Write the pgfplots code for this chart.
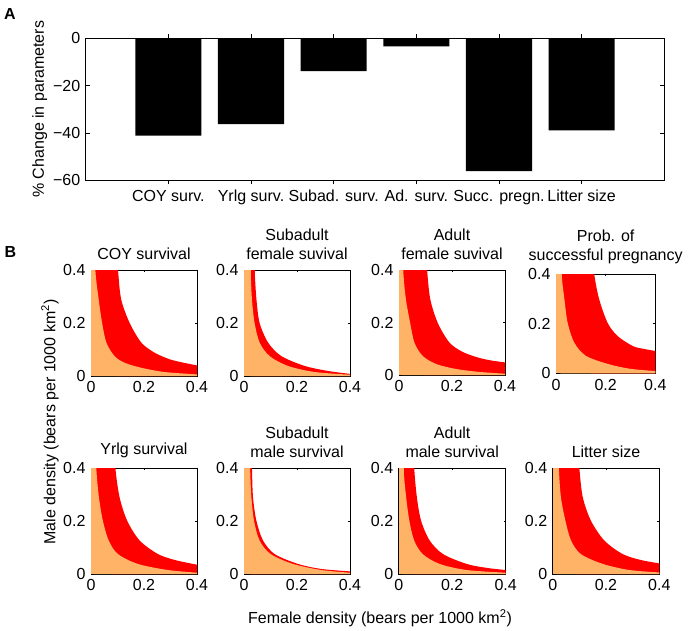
\documentclass[border=0pt]{standalone}
\usepackage{fontspec}
\setmainfont{Liberation Sans}
\usepackage{pgfplots}
\pgfplotsset{compat=1.18}
\definecolor{lightor}{RGB}{255,179,102}

\pgfplotsset{
  every axis/.append style={
    scale only axis,
    tick align=inside,
    axis line style={line width=0.6pt},
    every tick/.style={line width=0.6pt, black},
    /pgf/number format/assume math mode=true,
  },
  dens/.style={
    width=106pt, height=106pt,
    xmin=0, xmax=0.4, ymin=0, ymax=0.4,
    xtick={0,0.2,0.4}, ytick={0,0.2,0.4},
    xticklabels={0,0.2,0.4}, yticklabels={0,0.2,0.4},
    major tick length=2pt,
    anchor=north west,
    title style={align=center, yshift=-1pt},
  },
  redfill/.style={fill=red, draw=none},
  orfill/.style={fill=lightor, draw=none},
}

\begin{document}
\fontsize{16}{19}\selectfont
\begin{tikzpicture}
\useasboundingbox (0pt,0pt) rectangle (690pt,-631pt);

% panel A
\begin{axis}[
    at={(85.7pt,-38.3pt)}, anchor=north west,
    width=578.6pt, height=142pt,
    ybar, bar width=0.8,
    xmin=0, xmax=7, ymin=-60, ymax=0,
    xtick={1,2,3,4,5,6},
    xticklabels={COY surv., Yrlg surv., Subad. surv., Ad. surv., Succ. pregn., Litter size},
    ytick={-60,-40,-20,0},
    yticklabels={−60,−40,−20,0},
    major tick length=4pt,
    ylabel={\% Change in parameters},
    ylabel style={at={(axis description cs:-0.0795,0.5)}, anchor=center},
]
\addplot[fill=black, draw=none] coordinates {(1,-41.1) (2,-36.3) (3,-13.9) (4,-3.4) (5,-56.1) (6,-38.9)};
\end{axis}

\node[font=\bfseries] at (10pt,-14pt) {A};
\node[font=\bfseries] at (10.5pt,-251.5pt) {B};
\node[rotate=90] at (50pt,-422pt) {Male density (bears per 1000 km\textsuperscript{2})};
\node at (380pt,-618pt) {Female density (bears per 1000 km\textsuperscript{2})};

% row 1
\begin{axis}[dens, at={(91pt,-270pt)}, title={COY survival}]
\addplot[redfill] coordinates {(0,0.4) (0.102,0.4)} \closedcycle;
\addplot[redfill, smooth] coordinates {(0.092,0.55) (0.102,0.40) (0.114,0.289) (0.146,0.200) (0.190,0.126) (0.240,0.088) (0.297,0.063) (0.350,0.050) (0.400,0.040)} \closedcycle;
\addplot[orfill] coordinates {(0,0.4) (0.0164,0.4)} \closedcycle;
\addplot[orfill, smooth] coordinates {(0.008,0.6) (0.0164,0.40) (0.029,0.289) (0.042,0.200) (0.058,0.126) (0.089,0.075) (0.127,0.050) (0.190,0.031) (0.278,0.015) (0.400,0.006)} \closedcycle;
\end{axis}

\begin{axis}[dens, at={(244pt,-270pt)}, title={Subadult\\female suvival}]
\addplot[redfill] coordinates {(0,0.4) (0.040,0.4)} \closedcycle;
\addplot[redfill, smooth] coordinates {(0.034,0.55) (0.040,0.40) (0.047,0.289) (0.059,0.200) (0.091,0.126) (0.141,0.075) (0.229,0.038) (0.317,0.019) (0.400,0.008)} \closedcycle;
\addplot[orfill] coordinates {(0,0.4) (0.025,0.4)} \closedcycle;
\addplot[orfill, smooth] coordinates {(0.021,0.55) (0.025,0.40) (0.030,0.289) (0.040,0.200) (0.059,0.126) (0.097,0.075) (0.166,0.038) (0.267,0.015) (0.400,0.005)} \closedcycle;
\end{axis}

\begin{axis}[dens, at={(399pt,-270pt)}, height=105pt, title={Adult\\female suvival}]
\addplot[redfill] coordinates {(0,0.4) (0.106,0.4)} \closedcycle;
\addplot[redfill, smooth] coordinates {(0.096,0.55) (0.106,0.40) (0.118,0.289) (0.146,0.199) (0.190,0.124) (0.240,0.088) (0.300,0.066) (0.350,0.055) (0.400,0.048)} \closedcycle;
\addplot[orfill] coordinates {(0,0.4) (0.016,0.4)} \closedcycle;
\addplot[orfill, smooth] coordinates {(0.011,0.6) (0.016,0.40) (0.026,0.289) (0.042,0.199) (0.058,0.124) (0.089,0.073) (0.140,0.042) (0.215,0.023) (0.300,0.012) (0.400,0.005)} \closedcycle;
\end{axis}

\begin{axis}[dens, at={(556pt,-274pt)}, width=99.3pt, height=99.3pt, title={Prob. of\\successful pregnancy}]
\addplot[redfill] coordinates {(0,0.4) (0.154,0.4)} \closedcycle;
\addplot[redfill, smooth] coordinates {(0.140,0.55) (0.154,0.40) (0.174,0.298) (0.208,0.203) (0.248,0.150) (0.309,0.110) (0.350,0.099) (0.400,0.090)} \closedcycle;
\addplot[orfill] coordinates {(0,0.4) (0.023,0.4)} \closedcycle;
\addplot[orfill, smooth] coordinates {(0.018,0.6) (0.023,0.40) (0.034,0.298) (0.047,0.203) (0.074,0.123) (0.121,0.070) (0.215,0.036) (0.300,0.018) (0.400,0.009)} \closedcycle;
\end{axis}

% row 2
\begin{axis}[dens, at={(91pt,-468pt)}, title={Yrlg survival}]
\addplot[redfill] coordinates {(0,0.4) (0.092,0.4)} \closedcycle;
\addplot[redfill, smooth] coordinates {(0.083,0.55) (0.092,0.40) (0.108,0.289) (0.137,0.200) (0.184,0.126) (0.253,0.075) (0.320,0.052) (0.400,0.035)} \closedcycle;
\addplot[orfill] coordinates {(0,0.4) (0.020,0.4)} \closedcycle;
\addplot[orfill, smooth] coordinates {(0.014,0.6) (0.020,0.40) (0.030,0.289) (0.045,0.200) (0.067,0.126) (0.102,0.075) (0.177,0.038) (0.290,0.015) (0.400,0.005)} \closedcycle;
\end{axis}

\begin{axis}[dens, at={(244pt,-468pt)}, title={Subadult\\male survival}]
\addplot[redfill] coordinates {(0,0.4) (0.030,0.4)} \closedcycle;
\addplot[redfill, smooth] coordinates {(0.026,0.55) (0.030,0.40) (0.034,0.289) (0.047,0.200) (0.072,0.126) (0.116,0.075) (0.204,0.038) (0.292,0.019) (0.400,0.010)} \closedcycle;
\addplot[orfill] coordinates {(0,0.4) (0.023,0.4)} \closedcycle;
\addplot[orfill, smooth] coordinates {(0.020,0.55) (0.023,0.40) (0.028,0.289) (0.038,0.200) (0.059,0.126) (0.101,0.075) (0.185,0.038) (0.292,0.015) (0.400,0.005)} \closedcycle;
\end{axis}

\begin{axis}[dens, at={(398.7pt,-468pt)}, width=107pt, title={Adult\\male survival}]
\addplot[redfill] coordinates {(0,0.4) (0.058,0.4)} \closedcycle;
\addplot[redfill, smooth] coordinates {(0.052,0.55) (0.058,0.40) (0.068,0.289) (0.084,0.200) (0.116,0.126) (0.166,0.075) (0.254,0.038) (0.330,0.023) (0.400,0.015)} \closedcycle;
\addplot[orfill] coordinates {(0,0.4) (0.018,0.4)} \closedcycle;
\addplot[orfill, smooth] coordinates {(0.012,0.6) (0.018,0.40) (0.028,0.289) (0.040,0.200) (0.058,0.126) (0.090,0.075) (0.153,0.038) (0.254,0.015) (0.400,0.005)} \closedcycle;
\end{axis}

\begin{axis}[dens, at={(552.7pt,-468pt)}, width=106.6pt, title={Litter size}]
\addplot[redfill] coordinates {(0,0.4) (0.100,0.4)} \closedcycle;
\addplot[redfill, smooth] coordinates {(0.090,0.55) (0.100,0.40) (0.113,0.289) (0.144,0.200) (0.194,0.126) (0.263,0.075) (0.330,0.053) (0.400,0.040)} \closedcycle;
\addplot[orfill] coordinates {(0,0.4) (0.023,0.4)} \closedcycle;
\addplot[orfill, smooth] coordinates {(0.017,0.6) (0.023,0.40) (0.031,0.289) (0.048,0.200) (0.069,0.126) (0.106,0.075) (0.188,0.038) (0.288,0.015) (0.400,0.006)} \closedcycle;
\end{axis}
\end{tikzpicture}
\end{document}
